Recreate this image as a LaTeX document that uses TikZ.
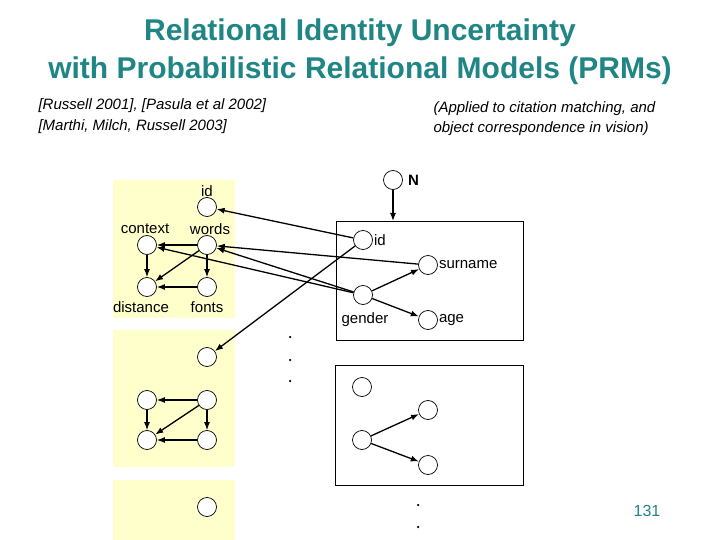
\documentclass[tikz,border=0pt]{standalone}
\usepackage{fontspec}
\setmainfont{Liberation Sans}
\usetikzlibrary{arrows.meta}
\definecolor{teal1}{HTML}{1F8585}
\definecolor{ylw}{HTML}{FFFFCC}
\begin{document}
\begin{tikzpicture}[x=1pt,y=-1pt,
  v/.style={circle,draw,line width=0.7pt,minimum size=19pt,inner sep=0pt,fill=white},
  lbl/.style={font=\fontsize{15}{17}\selectfont,inner sep=1pt},
  ar/.style={-{Latex[length=8pt,width=6pt]},line width=1.3pt},
  dot/.style={circle,fill=black,inner sep=0pt,minimum size=2.5pt}]
\useasboundingbox (0,0) rectangle (720,540);
\node[font=\bfseries\fontsize{30}{38}\selectfont,text=teal1,align=center] (title) at (360,52) {Relational Identity Uncertainty\\with Probabilistic Relational Models (PRMs)};
\node[anchor=west,font=\itshape\fontsize{15}{21}\selectfont,align=left] (cit) at (35,116) {[Russell 2001], [Pasula et al 2002]\\{}{[Marthi, Milch, Russell 2003]}};
\node[anchor=west,font=\itshape\fontsize{15}{20}\selectfont,align=left] (app) at (430,119) {(Applied to citation matching, and\\object correspondence in vision)};
% yellow boxes
\fill[ylw] (113,180) rectangle (235,318);
\fill[ylw] (113,330) rectangle (235,467);
\fill[ylw] (113,480) rectangle (235,540);
% big boxes
\node[draw,line width=0.8pt,minimum width=187pt,minimum height=119pt,anchor=north west,inner sep=0pt] (bx1) at (336,221) {};
\node[draw,line width=0.8pt,minimum width=188pt,minimum height=120pt,anchor=north west,inner sep=0pt] (bx2) at (335,365) {};
% box1 nodes
\node[v] (a1) at (207,207) {};
\node[v] (c1) at (147,245) {};
\node[v] (w1) at (207,245) {};
\node[v] (d1) at (147,287) {};
\node[v] (f1) at (207,287) {};
\node[lbl] (la1) at (207,191) {id};
\node[lbl] (lc1) at (145,229) {context};
\node[lbl] (lw1) at (210,229) {words};
\node[lbl] (ld1) at (141,307) {distance};
\node[lbl] (lf1) at (207,307) {fonts};
% box2 nodes
\node[v] (a2) at (207,357) {};
\node[v] (c2) at (147,400) {};
\node[v] (w2) at (207,400) {};
\node[v] (d2) at (147,440) {};
\node[v] (f2) at (207,440) {};
\node[v] (a3) at (207,507) {};
% internal edges
\foreach \i in {1,2}{
  \draw[ar] (w\i) -- (c\i);
  \draw[ar] (c\i) -- (d\i);
  \draw[ar] (w\i) -- (d\i);
  \draw[ar] (f\i) -- (d\i);
  \draw[ar] (w\i) -- (f\i);
}
% right box 1
\node[v] (N) at (393,180) {};
\node[lbl,anchor=west] (lN) at ([xshift=4pt]N.east) {\bfseries N};
\node[v] (id) at (363,240) {};
\node[v] (sn) at (428,265) {};
\node[v] (gd) at (363,295) {};
\node[v] (ag) at (428,320) {};
\node[lbl,anchor=west] (lid) at (id.east) {id};
\node[lbl,anchor=west] (lsn) at (sn.east) {surname};
\node[lbl] (lgd) at (365,320) {gender};
\node[lbl,anchor=west] (lag) at (ag.east) {age};
\draw[ar] (N) -- (bx1.north -| N);
\draw[ar] (gd) -- (sn);
\draw[ar] (gd) -- (ag);
\draw[ar] (id) -- (a1);
\draw[ar] (sn) -- (w1);
\draw[ar] (gd) -- (c1);
\draw[ar] (gd) -- (w1);
\draw[ar] (id) -- (a2);
% right box 2
\node[v] (r1) at (362,387) {};
\node[v] (r2) at (428,410) {};
\node[v] (r3) at (362,440) {};
\node[v] (r4) at (428,465) {};
\draw[ar] (r3) -- (r2);
\draw[ar] (r3) -- (r4);
% dots
\node[dot] (p1) at (290,337) {};
\node[dot] (p2) at (290,360) {};
\node[dot] (p3) at (290,381) {};
\node[dot] (p4) at (418,505) {};
\node[dot] (p5) at (418,527) {};
\node[text=teal1,font=\fontsize{16}{18}\selectfont] (pg) at (647,511) {131};
\end{tikzpicture}
\end{document}
